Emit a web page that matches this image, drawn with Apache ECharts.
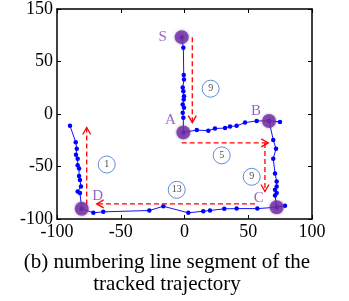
<!DOCTYPE html>
<html>
<head>
<meta charset="utf-8">
<script src="https://cdn.jsdelivr.net/npm/echarts@6/dist/echarts.min.js"></script>
<style>html,body{margin:0;padding:0;background:#fff}#c{width:349px;height:301px}</style>
</head>
<body>
<div id="c"></div>
<script>
// Tracked trajectory (x, y)
const trajectory = [
  [-2.2, 73.2], [-0.9, 63.1], [-0.6, 37.2], [-0.4, 32.8], [-1.4, 25.3], [-0.9, 21.6],
  [-0.4, 16.9], [-0.6, 13.8], [-1.4, 9.1], [-0.4, 5.9], [-1.4, 1.2], [-0.9, -3.5],
  [-0.9, -17.5],
  [9.6, -15.3], [18.7, -15.9], [23.9, -13.8], [31.8, -13.4], [35.7, -11.9], [40.9, -11.3],
  [47.5, -8.2], [56.6, -6.6], [66.3, -6.6], [74.9, -7.5], [66.3, -6.6],
  [69.6, -24.7], [71.8, -33.1], [69.6, -42.5], [71.0, -56.6], [72.3, -64.4], [72.3, -69.1],
  [71.0, -72.2], [72.3, -75.3], [71.0, -77.6], [72.3, -88.8], [78.8, -87.4], [72.3, -88.8],
  [57.1, -90.1], [40.9, -90.1], [31.2, -90.3], [20.0, -91.9], [14.7, -92.6], [3.0, -94.1],
  [-16.6, -87.9], [-27.6, -91.9], [-63.7, -93.2], [-71.5, -94.1], [-80.6, -90.3],
  [-82.0, -75.3], [-83.8, -73.8], [-81.2, -69.1], [-82.0, -62.9], [-82.7, -59.1],
  [-82.7, -51.9], [-83.8, -48.8], [-83.8, -42.5], [-85.1, -38.7], [-84.5, -33.1],
  [-85.3, -26.9], [-89.8, -11.3]
];
// Key points
const keyNames = ['S', 'A', 'B', 'C', 'D'];
const keyPoints = [[-2.2, 73.2], [-0.9, -17.5], [66.3, -6.6], [72.3, -88.8], [-80.6, -90.3]];
// Red direction arrows: [x1, y1, x2, y2]
const arrows = [
  [6.1, 73.0, 6.1, -8.2],
  [-2.2, -27.5, 65.7, -27.5],
  [63.1, -27.5, 63.1, -73.8],
  [55.3, -85.6, -68.9, -85.6],
  [-76.7, -86.3, -76.7, -12.9]
];
// Segment numbers
const segNumbers = ['9', '5', '9', '13', '1'];
const segPositions = [[20.5, 24.1], [29.2, -39.4], [52.7, -59.8], [-6.1, -72.2], [-61.0, -48.1]];
// Axis ticks
const xTicks = [-100, -50, 0, 50, 100];
const yTickLabels = {'-100': '-100', '-50': '-50', '0': '0', '50': '50', '100': '150'};
const captionLines = ['(b) numbering line segment of the', 'tracked trajectory'];

const serif = '"Liberation Serif", "DejaVu Serif", serif';
const labelOffsets = {S: [-19, 0], A: [-13, -12], B: [-13, -10], C: [-18, -9], D: [16, -13]};

const chart = echarts.init(document.getElementById('c'));
const axisLine = {show: true, onZero: false, lineStyle: {color: '#000', width: 1.5}};
const tick = {show: true, inside: true, length: 4, lineStyle: {color: '#000', width: 1}};
chart.setOption({
  animation: false,
  grid: {left: 57, right: 37, top: 6, bottom: 82, containLabel: false},
  xAxis: [
    {type: 'value', min: -100, max: 100, interval: 50, position: 'bottom',
     axisLine: axisLine, axisTick: tick, splitLine: {show: false},
     axisLabel: {color: '#000', fontFamily: serif, fontSize: 18, margin: 4,
       formatter: v => xTicks.includes(v) ? String(v) : ''}},
    {type: 'value', min: -100, max: 100, interval: 50, position: 'top',
     axisLine: axisLine, axisTick: tick, splitLine: {show: false}, axisLabel: {show: false}}
  ],
  yAxis: [
    {type: 'value', min: -100, max: 100, interval: 50, position: 'left',
     axisLine: axisLine, axisTick: tick, splitLine: {show: false},
     axisLabel: {color: '#000', fontFamily: serif, fontSize: 18, margin: 4,
       formatter: v => yTickLabels[String(v)] || ''}},
    {type: 'value', min: -100, max: 100, interval: 50, position: 'right',
     axisLine: axisLine, axisTick: tick, splitLine: {show: false}, axisLabel: {show: false}}
  ],
  series: [
    {type: 'line', data: trajectory, smooth: false, symbol: 'circle', symbolSize: 4.5,
     lineStyle: {color: '#1010ff', width: 1}, itemStyle: {color: '#0000ff'}, z: 3},
    {type: 'custom', data: arrows, z: 4,
     renderItem: function (params, api) {
       const p1 = api.coord([api.value(0), api.value(1)]);
       const p2 = api.coord([api.value(2), api.value(3)]);
       const dx = p2[0] - p1[0], dy = p2[1] - p1[1];
       const len = Math.sqrt(dx * dx + dy * dy);
       const ux = dx / len, uy = dy / len, nx = -uy, ny = ux;
       const hl = 7, hw = 4;
       const st = {stroke: '#ff0000', lineWidth: 1.3, fill: null};
       return {type: 'group', children: [
         {type: 'line', shape: {x1: p1[0], y1: p1[1], x2: p2[0], y2: p2[1]},
          style: Object.assign({}, st, {lineDash: [5, 3]})},
         {type: 'polyline', shape: {points: [
           [p2[0] - hl * ux + hw * nx, p2[1] - hl * uy + hw * ny],
           [p2[0], p2[1]],
           [p2[0] - hl * ux - hw * nx, p2[1] - hl * uy - hw * ny]]}, style: st}
       ]};
     }},
    {type: 'scatter', data: segPositions.map((p, i) => ({value: p, name: segNumbers[i]})),
     symbol: 'circle', symbolSize: 17, z: 5,
     itemStyle: {color: '#fff', borderColor: '#3b6fcf', borderWidth: 1},
     label: {show: true, position: 'inside', formatter: p => p.name, color: '#222',
       fontFamily: serif, fontSize: 10}},
    {type: 'scatter', data: keyPoints.map((p, i) => ({value: p, name: keyNames[i],
       label: {offset: labelOffsets[keyNames[i]]}})),
     symbol: 'circle', symbolSize: 14, z: 6,
     itemStyle: {color: '#7030a0', shadowBlur: 3, shadowColor: 'rgba(112,48,160,0.6)'},
     label: {show: true, position: 'inside', formatter: p => p.name, color: '#7a3fb0',
       fontFamily: serif, fontSize: 15}}
  ],
  graphic: captionLines.map((t, i) => ({
    type: 'text', x: 167, y: 262 + i * 22,
    style: {text: t, font: '21px ' + serif, fill: '#000', align: 'center', verticalAlign: 'middle'}
  }))
});
</script>
</body>
</html>
